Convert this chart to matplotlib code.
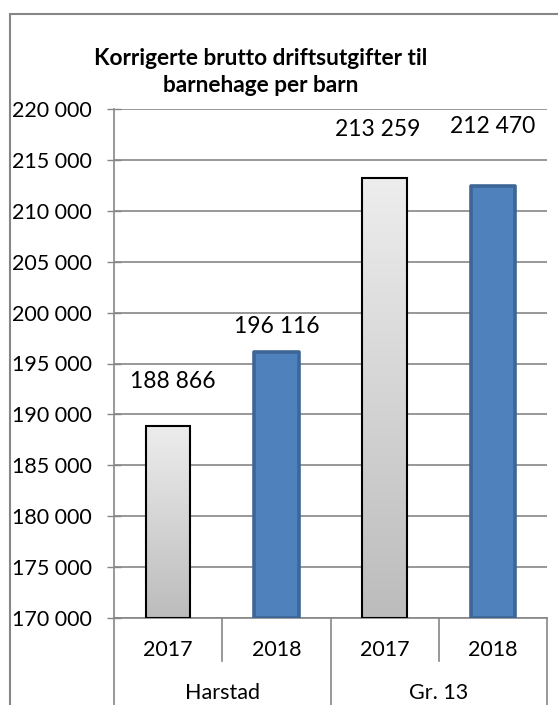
import matplotlib
matplotlib.use("Agg")
import matplotlib.pyplot as plt
import numpy as np
from matplotlib.colors import LinearSegmentedColormap
from matplotlib.patches import Rectangle
from matplotlib.ticker import FuncFormatter

plt.rcParams['font.family'] = ['Lato', 'DejaVu Sans']

# data
years = ["2017", "2018", "2017", "2018"]
groups = ["Harstad", "Gr. 13"]
values = [188866, 196116, 213259, 212470]
title = "Korrigerte brutto driftsutgifter til\nbarnehage per barn"

W, H = 558, 705
fig = plt.figure(figsize=(W / 100, H / 100), dpi=100)
ax = fig.add_axes([114 / W, 1 - 618 / H, (547 - 114) / W, (618 - 109) / H])

grid_c = "#868686"
x = np.arange(len(values))
bw = 0.41

gray_cmap = LinearSegmentedColormap.from_list("g", ["#bcbcbc", "#ededed"])
for i, v in enumerate(values):
    if i % 2 == 0:
        bar = ax.bar(x[i], v - 170000, bottom=170000, width=bw, color="none",
                     edgecolor="black", linewidth=1.5, zorder=3)[0]
        grad = np.linspace(0, 1, 256).reshape(-1, 1)
        im = ax.imshow(grad, cmap=gray_cmap, origin="lower", aspect="auto",
                       extent=[x[i] - bw / 2, x[i] + bw / 2, 170000, v], zorder=2)
        im.set_clip_path(bar)
    else:
        ax.bar(x[i], v - 170000, bottom=170000, width=bw, color="#4f81bd",
               edgecolor="#3d6696", linewidth=2.6, joinstyle="round", zorder=3)

# data labels (offsets in pixels)
lab_off = [(5, 34), (0, 15), (-7, 38), (0, 49)]
for i, v in enumerate(values):
    ax.annotate(f"{v:,}".replace(",", " "), (x[i], v), xytext=lab_off[i],
                textcoords="offset pixels", ha="center", va="bottom",
                fontsize=16.5, color="black")

ax.set_xlim(-0.5, len(values) - 0.5)
ax.set_ylim(170000, 220000)
ax.set_yticks(np.arange(170000, 220001, 5000))
ax.yaxis.set_major_formatter(FuncFormatter(lambda v, p: f"{int(v):,}".replace(",", " ")))
ax.tick_params(axis="y", labelsize=15.5, direction="inout", length=9.5,
               color=grid_c, width=1, pad=11)
ax.grid(axis="y", color=grid_c, linewidth=1.2, zorder=0)
ax.set_axisbelow(True)
ax.set_xticks([])
for s in ["top", "right"]:
    ax.spines[s].set_visible(False)
for s in ["left", "bottom"]:
    ax.spines[s].set_color(grid_c)
    ax.spines[s].set_linewidth(1.2)

# two-level category axis
tr = ax.get_xaxis_transform()
for k in range(len(values) + 1):
    bx = k - 0.5
    y_end = -0.085 if k % 2 == 1 else -0.25
    ax.plot([bx, bx], [0, y_end], transform=tr, color=grid_c, lw=1.2, clip_on=False)
for i, yr in enumerate(years):
    ax.text(x[i], -0.063, yr, transform=tr, ha="center", va="center", fontsize=15.5)
for g, name in enumerate(groups):
    ax.text(2 * g + 0.5, -0.147, name, transform=tr, ha="center", va="center", fontsize=15.5)

fig.text(261 / W, 1 - 72 / H, title, ha="center", va="center", fontsize=16.3,
         fontweight="bold", linespacing=1.35)

# outer chart border
fig.patches.append(Rectangle((10 / W, -0.1), 1.2, 1 - 14 / H + 0.1, transform=fig.transFigure,
                             fill=False, edgecolor=grid_c, linewidth=1.5))

fig.savefig("out.png", dpi=100)
